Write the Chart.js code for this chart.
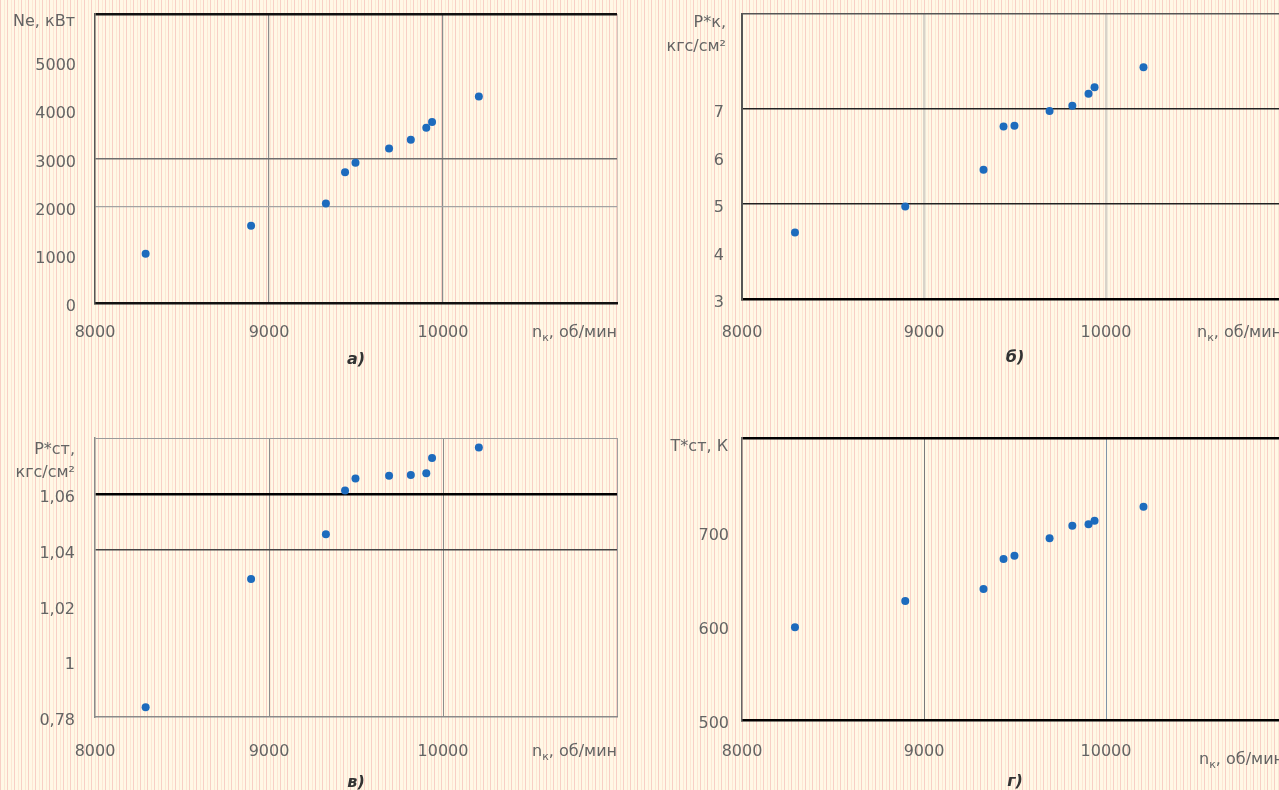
<!DOCTYPE html>
<html>
<head>
<meta charset="utf-8">
<script src="https://cdn.jsdelivr.net/npm/chart.js@4.4.1/dist/chart.umd.min.js"></script>
<style>
  html, body { margin: 0; padding: 0; }
  #sheet {
    position: relative; width: 1279px; height: 790px; overflow: hidden;
    background:
      repeating-linear-gradient(90deg,
        #f8cfc5 0px, #f8cfc5 1px,
        #fff8e6 1px, #fff8e6 4px,
        #fde6d4 4px, #fde6d4 5px,
        #fff8e6 5px, #fff8e6 7px);
  }
  canvas { position: absolute; }
</style>
</head>
<body>
<div id="sheet">
  <canvas id="cNe"  width="640" height="390" style="left:0px;top:0px;width:640px;height:390px"></canvas>
  <canvas id="cPk"  width="660" height="390" style="left:647px;top:0px;width:660px;height:390px"></canvas>
  <canvas id="cPst" width="640" height="395" style="left:0px;top:395px;width:640px;height:395px"></canvas>
  <canvas id="cTst" width="660" height="395" style="left:647px;top:395px;width:660px;height:395px"></canvas>
</div>
<script>
// Engine speed n_к, об/мин (shared by all four panels)
const speed    = [8291, 8897, 9327, 9437, 9497, 9690, 9815, 9904, 9937, 10206];
// а) power Nе, кВт
const powerNe  = [1020, 1602, 2068, 2717, 2910, 3209, 3388, 3641, 3758, 4285];
// б) compressor pressure Р*к, кгс/см²
const pressK   = [4.40, 4.95, 5.72, 6.63, 6.65, 6.96, 7.07, 7.32, 7.46, 7.88];
// в) pressure Р*ст, кгс/см²
const pressSt  = [0.9835, 1.0295, 1.0455, 1.0612, 1.0655, 1.0665, 1.0667, 1.0674, 1.0728, 1.0766];
// г) temperature Т*ст, К
const tempSt   = [598.6, 626.6, 639.4, 671.3, 674.8, 693.3, 706.7, 708.2, 712.0, 726.9];

// Tick labels (the top tick of each axis is left blank for the axis caption)
const speedTicks = ['8000', '9000', '10000'];
const neTicks    = ['0', '1000', '2000', '3000', '4000', '5000'];
const pkTicks    = ['3', '4', '5', '6', '7'];
const pstTicks   = ['0,78', '1', '1,02', '1,04', '1,06'];
const tstTicks   = ['500', '600', '700'];

const FONT = '"DejaVu Sans", Lato, sans-serif';
const TEXT = '#646464';
const DOT  = '#1d6bbd';
const SIZE = 16;

function pairs(ys) { return speed.map((x, i) => ({ x: x, y: ys[i] })); }

// Captions drawn around the plot area: y caption, x caption with subscript, panel letter
const panelText = {
  id: 'panelText',
  afterDraw(chart, args, o) {
    const { ctx, chartArea: a } = chart;
    ctx.save();
    ctx.fillStyle = TEXT;
    ctx.textBaseline = 'middle';
    ctx.font = SIZE + 'px ' + FONT;
    ctx.textAlign = 'right';
    o.yTitle.forEach((line, i) => {
      ctx.fillText(line, a.left - o.yGap, a.top + o.yDy + i * o.yStep);
    });
    // n_к, об/мин
    const big = SIZE + 'px ' + FONT, small = '11px ' + FONT;
    ctx.textAlign = 'left';
    ctx.font = big;  const w1 = ctx.measureText('n').width;
    ctx.font = small; const w2 = ctx.measureText('к').width;
    ctx.font = big;  const w3 = ctx.measureText(', об/мин').width;
    let x = a.right - (w1 + w2 + w3) + (o.xShift || 0);
    const y = a.bottom + o.xDy;
    ctx.font = big;  ctx.fillText('n', x, y); x += w1;
    ctx.font = small; ctx.fillText('к', x, y + 5); x += w2;
    ctx.font = big;  ctx.fillText(', об/мин', x, y);
    // panel letter
    ctx.fillStyle = '#333';
    ctx.font = 'italic bold 16px ' + FONT;
    ctx.textAlign = 'center';
    ctx.fillText(o.letter, (a.left + a.right) / 2, a.bottom + o.subDy);
    ctx.restore();
  }
};

function near(v, t) { return Math.abs(v - t) < 1e-6; }

function makePanel(id, cfg) {
  new Chart(document.getElementById(id), {
    type: 'scatter',
    data: {
      datasets: [{
        data: pairs(cfg.values),
        backgroundColor: DOT,
        borderColor: DOT,
        pointStyle: 'circle',
        pointRadius: 4,
        pointBorderWidth: 0
      }]
    },
    options: {
      responsive: false,
      animation: false,
      events: [],
      layout: { padding: { top: cfg.padTop, right: cfg.padRight, left: 0, bottom: 0 } },
      plugins: {
        legend: { display: false },
        tooltip: { enabled: false },
        panelText: cfg.text
      },
      scales: {
        x: {
          type: 'linear',
          min: 8000, max: 11000,
          afterFit(s) { s.height = cfg.xHeight; s.paddingLeft = 0; s.paddingRight = 0; },
          border: { color: cfg.xBorder[0], width: cfg.xBorder[1] },
          grid: {
            drawTicks: false,
            color: c => (cfg.xGrid(c.tick.value) || ['rgba(0,0,0,0)', 1])[0],
            lineWidth: c => (cfg.xGrid(c.tick.value) || ['rgba(0,0,0,0)', 1])[1]
          },
          ticks: {
            stepSize: 1000,
            padding: cfg.xPad,
            maxRotation: 0,
            color: TEXT,
            font: { family: FONT, size: SIZE },
            callback: (v, i) => (i < speedTicks.length ? speedTicks[i] : '')
          }
        },
        y: {
          type: 'linear',
          min: cfg.yMin, max: cfg.yMax,
          afterFit(s) { s.width = 95; s.paddingTop = 0; s.paddingBottom = 0; },
          border: { color: cfg.yBorder[0], width: cfg.yBorder[1] },
          grid: {
            drawTicks: false,
            color: c => (cfg.yGrid(c.tick.value) || ['rgba(0,0,0,0)', 1])[0],
            lineWidth: c => (cfg.yGrid(c.tick.value) || ['rgba(0,0,0,0)', 1])[1]
          },
          ticks: {
            stepSize: cfg.yStep,
            padding: cfg.yPad,
            labelOffset: 4,
            color: TEXT,
            font: { family: FONT, size: SIZE },
            callback: (v, i) => (i < cfg.labels.length ? cfg.labels[i] : '')
          }
        }
      }
    },
    plugins: [panelText]
  });
}

// а) Nе
makePanel('cNe', {
  values: powerNe, labels: neTicks,
  yMin: 0, yMax: 6000, yStep: 1000,
  padTop: 14, padRight: 23, xHeight: 87, xPad: 20, yPad: 19,
  xBorder: ['#111', 2.5], yBorder: ['#555', 1.5],
  xGrid: v => near(v, 9000) || near(v, 10000) ? ['#8c8c8c', 1.2] : near(v, 11000) ? ['#d2c6bb', 1] : null,
  yGrid: v => near(v, 2000) ? ['#a3a3a3', 1.2] : near(v, 3000) ? ['#6e6e6e', 1.5] : near(v, 6000) ? ['#111', 2.5] : null,
  text: { yTitle: ['Nе, кВт'], yGap: 20, yDy: 8, yStep: 0, xDy: 30, subDy: 57, letter: 'а)' }
});

// б) Р*к
makePanel('cPk', {
  values: pressK, labels: pkTicks,
  yMin: 3, yMax: 9, yStep: 1,
  padTop: 14, padRight: 19, xHeight: 91, xPad: 24, yPad: 18,
  xBorder: ['#000', 2.5], yBorder: ['#555', 2],
  xGrid: v => near(v, 9000) || near(v, 10000) ? ['#d8d3c9', 2.5] : null,
  yGrid: v => near(v, 5) || near(v, 7) ? ['#222', 1.5] : near(v, 9) ? ['#555', 1.5] : null,
  text: { yTitle: ['Р*к,', 'кгс/см²'], yGap: 16, yDy: 9, yStep: 24, xDy: 34, subDy: 59, letter: 'б)', xShift: -6 }
});

// в) Р*ст
makePanel('cPst', {
  values: pressSt, labels: pstTicks,
  yMin: 0.98, yMax: 1.08, yStep: 0.02,
  padTop: 43, padRight: 23, xHeight: 73, xPad: 25, yPad: 20,
  xBorder: ['#8a8a8a', 1.5], yBorder: ['#8a8a8a', 1.5],
  xGrid: v => near(v, 9000) || near(v, 10000) ? ['#8c8c8c', 1] : near(v, 11000) ? ['#a0a0a0', 1] : null,
  yGrid: v => near(v, 1.04) ? ['#444', 1.5] : near(v, 1.06) ? ['#000', 2.5] : near(v, 1.08) ? ['#9a9a9a', 1] : null,
  text: { yTitle: ['Р*ст,', 'кгс/см²'], yGap: 20, yDy: 12, yStep: 23, xDy: 35, subDy: 66, letter: 'в)' }
});

// г) Т*ст
makePanel('cTst', {
  values: tempSt, labels: tstTicks,
  yMin: 500, yMax: 800, yStep: 100,
  padTop: 43, padRight: 19, xHeight: 70, xPad: 22, yPad: 13,
  xBorder: ['#000', 2.5], yBorder: ['#666', 1.5],
  xGrid: v => near(v, 9000) ? ['#7a7a7a', 1] : near(v, 10000) ? ['#7f95a8', 1] : null,
  yGrid: v => near(v, 800) ? ['#000', 2.5] : null,
  text: { yTitle: ['Т*ст, К'], yGap: 14, yDy: 9, yStep: 0, xDy: 40, subDy: 62, letter: 'г)', xShift: -4 }
});
</script>
</body>
</html>
